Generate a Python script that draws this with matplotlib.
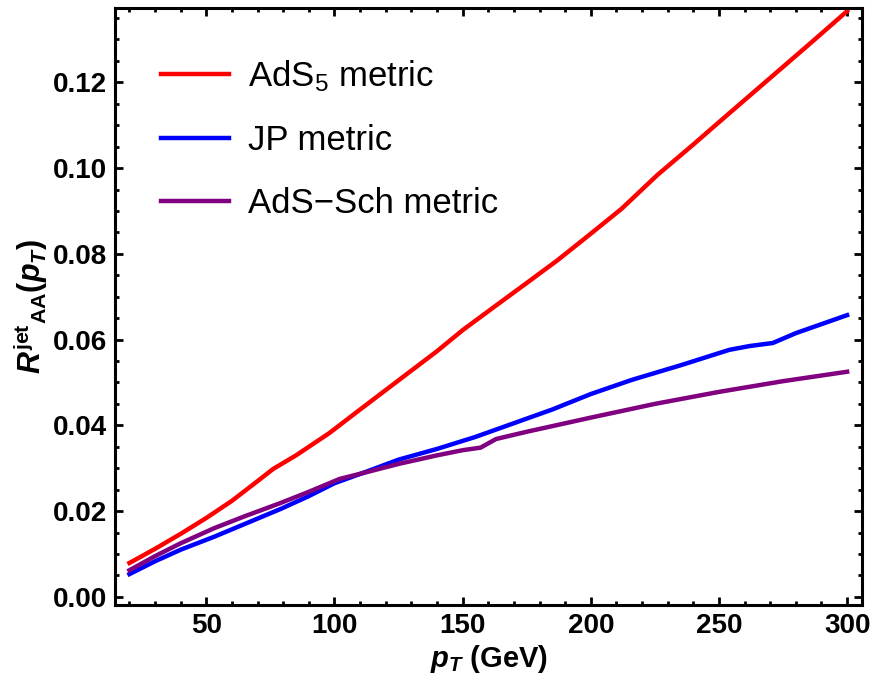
import matplotlib
matplotlib.use("Agg")
import matplotlib.pyplot as plt
from matplotlib.ticker import MultipleLocator

plt.rcParams['font.family'] = 'Liberation Sans'
plt.rcParams['mathtext.fontset'] = 'custom'
plt.rcParams['mathtext.rm'] = 'Liberation Sans:bold'
plt.rcParams['mathtext.it'] = 'Liberation Sans:italic:bold'
plt.rcParams['mathtext.bf'] = 'Liberation Sans:bold'
plt.rcParams['mathtext.sf'] = 'Liberation Sans'

# AdS5 metric
pt_ads5 = [20, 30, 40, 50, 60, 70, 76, 85, 98, 110, 125, 140, 150, 162, 175,
           187, 200, 212, 226, 240, 250, 262, 275, 287, 300]
raa_ads5 = [0.0079, 0.0112, 0.0147, 0.0184, 0.0224, 0.0270, 0.0298, 0.0330,
            0.0382, 0.0437, 0.0505, 0.0573, 0.0622, 0.0675, 0.0732, 0.0785,
            0.0847, 0.0905, 0.0984, 0.1055, 0.1107, 0.1169, 0.1236, 0.1298,
            0.1366]

# JP metric
pt_jp = [20, 30, 40, 53, 65, 79, 90, 100, 112, 125, 140, 155, 170, 185, 200,
         216, 235, 254, 262, 271, 280, 300]
raa_jp = [0.0053, 0.0083, 0.0110, 0.0140, 0.0170, 0.0205, 0.0235, 0.0265,
          0.0291, 0.0320, 0.0345, 0.0373, 0.0405, 0.0437, 0.0473, 0.0506,
          0.0540, 0.0576, 0.0585, 0.0592, 0.0615, 0.0657]

# AdS-Sch metric
pt_sch = [20, 30, 40, 53, 65, 79, 90, 102, 112, 125, 140, 150, 157, 163, 175,
          200, 225, 250, 275, 300]
raa_sch = [0.0062, 0.0095, 0.0125, 0.0160, 0.0188, 0.0219, 0.0245, 0.0275,
           0.0290, 0.0310, 0.0330, 0.0342, 0.0348, 0.0368, 0.0385, 0.0418,
           0.0450, 0.0478, 0.0503, 0.0525]

fig = plt.figure(figsize=(8.72, 6.79), dpi=100)
ax = fig.add_axes([0.132, 0.109, 0.8565, 0.879])

ax.plot(pt_ads5, raa_ads5, color=(1, 0, 0), lw=3.2, label=r'AdS$_{\mathsf{5}}$ metric')
ax.plot(pt_jp, raa_jp, color=(0, 0, 1), lw=3.2, label='JP metric')
ax.plot(pt_sch, raa_sch, color=(0.5, 0, 0.5), lw=3.2, label='AdS\u2212Sch metric')

ax.set_xlim(14.4, 305.8)
ax.set_ylim(-0.0019, 0.1373)

ax.xaxis.set_major_locator(MultipleLocator(50))
ax.xaxis.set_minor_locator(MultipleLocator(10))
ax.yaxis.set_major_locator(MultipleLocator(0.02))
ax.yaxis.set_minor_locator(MultipleLocator(0.005))
ax.yaxis.set_major_formatter(plt.FuncFormatter(lambda v, p: '%.2f' % v))

ax.tick_params(which='both', direction='in', top=True, right=True, width=2)
ax.tick_params(which='major', length=6, labelsize=20, pad=6)
ax.tick_params(which='minor', length=3)
for lab in ax.get_xticklabels() + ax.get_yticklabels():
    lab.set_fontweight('bold')
for s in ax.spines.values():
    s.set_linewidth(2.2)

ax.set_xlabel(r'$p_T$ (GeV)', fontsize=21, fontweight='bold', labelpad=3)
ax.set_ylabel(r'$R^{\mathrm{jet}}{}_{\mathrm{AA}}(p_T)$', fontsize=22, labelpad=2)

ax.legend(loc='upper left', bbox_to_anchor=(0.02, 0.969), frameon=False,
          fontsize=25, handlelength=1.96, handletextpad=0.55, labelspacing=0.87)

fig.savefig('out.png', dpi=100)
